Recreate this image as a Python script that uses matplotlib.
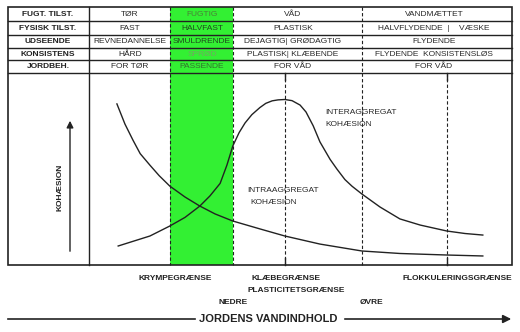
import matplotlib.pyplot as plt
from matplotlib.transforms import blended_transform_factory
from matplotlib.patches import Rectangle

plt.rcParams['font.family'] = ['Liberation Sans', 'DejaVu Sans']

# water content (0-100 across plot width) and cohesion (0-100)
intra_w = [6.6, 8.5, 10.4, 12.1, 14.4, 16.6, 19.1, 22.7, 26.2, 29.8, 34.0, 40.4,
           46.3, 54.6, 64.5, 73.5, 84.6, 93.1]
intra_c = [83.9, 73.4, 65.0, 58.0, 52.0, 46.5, 41.1, 35.4, 30.7, 26.6, 22.9, 18.8,
           15.1, 10.9, 7.3, 6.0, 5.2, 4.7]

inter_w = [6.9, 10.5, 14.4, 19.1, 22.7, 26.2, 28.6, 31.0, 32.6, 34.0, 35.5, 36.9,
           38.5, 40.4, 41.8, 43.3, 44.7, 46.3, 48.0, 49.9, 51.3, 53.0, 54.6, 57.0,
           58.6, 60.5, 62.2, 64.5, 68.8, 73.5, 78.3, 84.6, 88.9, 93.1]
inter_c = [9.9, 12.4, 15.1, 20.3, 24.8, 30.7, 36.0, 42.5, 52.0, 62.0, 69.0, 74.0,
           78.3, 82.0, 84.2, 85.5, 86.0, 86.2, 85.6, 83.3, 79.7, 72.5, 64.1, 55.0,
           50.0, 44.5, 41.0, 37.0, 30.2, 24.0, 20.8, 17.7, 16.4, 15.6]

# limits on the water content axis
krympe = 19.1
plast_nedre = 34.0
klaebe = 46.3
plast_ovre = 64.5
flokkulering = 84.6

row_heads = ['FUGT. TILST.', 'FYSISK TILST.', 'UDSEENDE', 'KONSISTENS', 'JORDBEH.']
col_tor = ['TØR', 'FAST', 'REVNEDANNELSE', 'HÅRD', 'FOR TØR']
col_fugtig = ['FUGTIG', 'HALVFAST', 'SMULDRENDE', 'SPRØD', 'PASSENDE']
col_vaad = ['VÅD', 'PLASTISK', 'DEJAGTIG| GRØDAGTIG', 'PLASTISK| KLÆBENDE', 'FOR VÅD']
col_mættet = ['VANDMÆTTET', 'HALVFLYDENDE  |    VÆSKE', 'FLYDENDE',
              'FLYDENDE  KONSISTENSLØS', 'FOR VÅD']
fugtig_colors = ['#4a8038', '#1f4a1f', '#1f4a1f', '#72a860', '#356f30']

ink = '#222222'

fig = plt.figure(figsize=(5.2, 3.32), dpi=100)
ax = fig.add_axes([0, 0, 1, 1])
ax.set_xlim(0, 520)
ax.set_ylim(332, 0)
ax.axis('off')

# plot area for the curves
top, bot, left, right = 73, 265, 89, 512
pax = fig.add_axes([left / 520, (332 - bot) / 332, (right - left) / 520, (bot - top) / 332])
pax.set_xlim(0, 100)
pax.set_ylim(0, 100)
pax.axis('off')
pax.patch.set_alpha(0)

tr = blended_transform_factory(pax.transData, ax.transData)

# green band (fugtig)
ax.add_patch(Rectangle((krympe, 7), plast_nedre - krympe, bot - 7, transform=tr,
                       facecolor='#33f033', edgecolor='none', zorder=0))
for x in [krympe, plast_nedre]:
    ax.plot([x, x], [7, bot], transform=tr, color=ink, lw=0.8, ls=(0, (3, 2)))
for x in [klaebe, plast_ovre, flokkulering]:
    ax.plot([x, x], [top, bot], transform=tr, color=ink, lw=0.8, ls=(0, (3, 2)))
ax.plot([plast_ovre, plast_ovre], [7, top], transform=tr, color=ink, lw=0.8, ls=(0, (3, 2)))
for x in [klaebe, flokkulering]:
    ax.plot([x, x], [top, top + 7], transform=tr, color=ink, lw=1)
    ax.plot([x, x], [bot - 7, bot], transform=tr, color=ink, lw=1)

# frame and table lines
ax.add_patch(Rectangle((8, 7), 504, bot - 7, fill=False, edgecolor=ink, lw=1.2))
for y in [21, 35, 48, 60, 73]:
    ax.plot([8, 512], [y, y], color=ink, lw=1)
ax.plot([89, 89], [7, bot], color=ink, lw=1)

row_y = [14, 28, 41.5, 54, 66.5]
fs = 6
for i, y in enumerate(row_y):
    ax.text(48, y, row_heads[i], ha='center', va='center', fontsize=fs, fontweight='bold', color=ink)
    ax.text(130, y, col_tor[i], ha='center', va='center', fontsize=fs, color='#2a2a2a')
    ax.text(202, y, col_fugtig[i], ha='center', va='center', fontsize=fs, color=fugtig_colors[i])
    ax.text(293, y, col_vaad[i], ha='center', va='center', fontsize=fs, color='#2a2a2a')
    ax.text(434, y, col_mættet[i], ha='center', va='center', fontsize=fs, color='#2a2a2a')

# curves
pax.plot(intra_w, intra_c, color=ink, lw=1)
pax.plot(inter_w, inter_c, color=ink, lw=1)

ax.text(325, 112, 'INTERAGGREGAT', fontsize=fs, color='#2a2a2a', va='center')
ax.text(325, 124, 'KOHÆSION', fontsize=fs, color='#2a2a2a', va='center')
ax.text(247, 190, 'INTRAAGGREGAT', fontsize=fs, color='#2a2a2a', va='center')
ax.text(250, 203, 'KOHÆSION', fontsize=fs, color='#2a2a2a', va='center')

# y arrow
ax.annotate('', xy=(70, 118), xytext=(70, 254),
            arrowprops=dict(arrowstyle='-|>', lw=1, color=ink, mutation_scale=10))
ax.text(60, 187, 'KOHÆSION', rotation=90, ha='center', va='center', fontsize=fs,
        fontweight='bold', color=ink)

# limit labels
ax.text(175, 278, 'KRYMPEGRÆNSE', ha='center', va='center', fontsize=fs, fontweight='bold', color=ink)
ax.text(252, 278, 'KLÆBEGRÆNSE', ha='left', va='center', fontsize=fs, fontweight='bold', color=ink)
ax.text(247, 290, 'PLASTICITETSGRÆNSE', ha='left', va='center', fontsize=fs, fontweight='bold', color=ink)
ax.text(248, 302, 'NEDRE', ha='right', va='center', fontsize=fs, fontweight='bold', color=ink)
ax.text(360, 302, 'ØVRE', ha='left', va='center', fontsize=fs, fontweight='bold', color=ink)
ax.text(512, 278, 'FLOKKULERINGSGRÆNSE', ha='right', va='center', fontsize=fs, fontweight='bold', color=ink)

# x arrow
ax.plot([8, 195], [319, 319], color=ink, lw=1.2)
ax.text(268, 319, 'JORDENS VANDINDHOLD', ha='center', va='center', fontsize=8,
        fontweight='bold', color=ink)
ax.annotate('', xy=(514, 319), xytext=(342, 319),
            arrowprops=dict(arrowstyle='-|>', lw=1.2, color=ink, mutation_scale=12))

fig.savefig('out.png', dpi=100)
